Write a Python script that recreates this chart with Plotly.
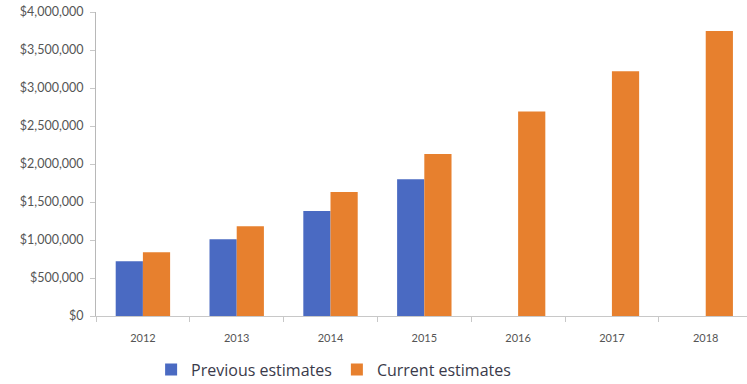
import plotly.graph_objects as go

years = ["2012", "2013", "2014", "2015", "2016", "2017", "2018"]
previous = [720000, 1010000, 1380000, 1800000, None, None, None]
current = [840000, 1180000, 1630000, 2130000, 2690000, 3220000, 3750000]
y_ticks = [0, 500000, 1000000, 1500000, 2000000, 2500000, 3000000, 3500000, 4000000]
y_labels = ["$0", "$500,000", "$1,000,000", "$1,500,000", "$2,000,000",
            "$2,500,000", "$3,000,000", "$3,500,000", "$4,000,000"]

blue = "#4a6ac2"
orange = "#e7802e"

fig = go.Figure()
fig.add_trace(go.Bar(x=years, y=previous, name="Previous estimates",
                     marker=dict(color=blue, line=dict(width=0))))
fig.add_trace(go.Bar(x=years, y=current, name="Current estimates",
                     marker=dict(color=orange, line=dict(width=0))))

fig.update_layout(
    width=747, height=384,
    margin=dict(l=96, r=0, t=12, b=68, autoexpand=False),
    paper_bgcolor="white", plot_bgcolor="white",
    barmode="group", bargap=0.42, bargroupgap=0,
    font=dict(family="Lato, DejaVu Sans, sans-serif", color="#555555"),
    showlegend=True,
    legend=dict(orientation="h", x=0.365, xanchor="center", y=-0.12, yanchor="top",
                font=dict(family="Open Sans, sans-serif", size=16, color="#3a3a4a"),
                itemwidth=30, traceorder="normal"),
)
fig.update_xaxes(
    type="category", range=[-0.5, 6.44], automargin=False,
    showline=True, linecolor="#c8c8c8", linewidth=1,
    ticks="outside", tickson="boundaries", ticklen=5, tickcolor="#c8c8c8",
    tickfont=dict(size=11, color="#555555"), ticklabelstandoff=12,
    showgrid=False, zeroline=False,
)
fig.update_yaxes(
    range=[0, 4000000], tickvals=y_ticks, ticktext=y_labels, automargin=False,
    showline=True, linecolor="#b8b8b8", linewidth=1,
    ticks="outside", ticklen=5, tickcolor="#c8c8c8",
    tickfont=dict(size=12.5, color="#555555"), ticklabelstandoff=4,
    showgrid=False, zeroline=False,
)

fig.write_html("out.html")
